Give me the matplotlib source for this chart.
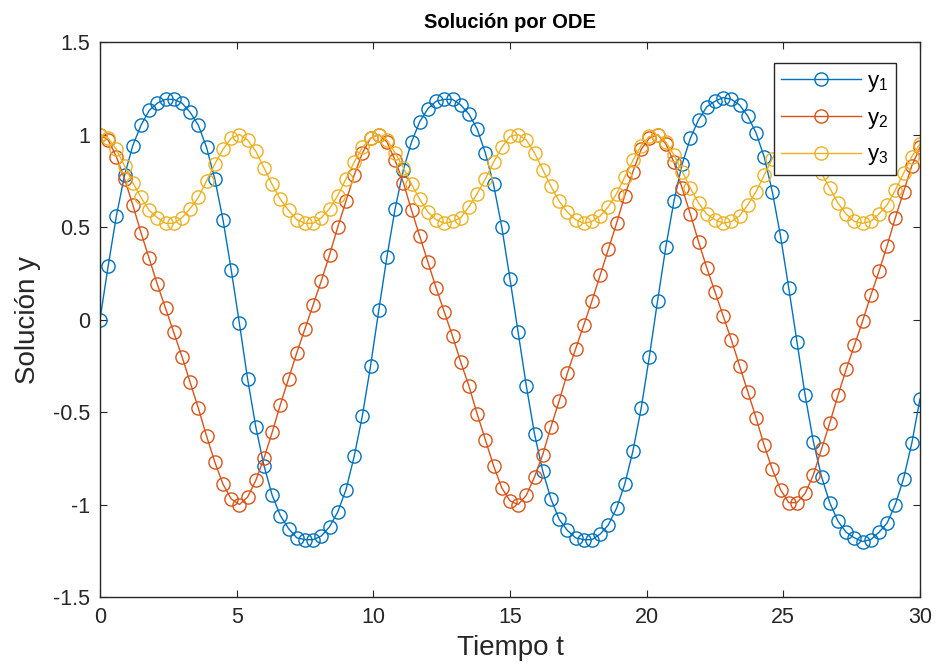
import numpy as np
import matplotlib
matplotlib.use("agg")
import matplotlib.pyplot as plt
from matplotlib.ticker import FuncFormatter

# tiempo: 101 muestras de 0 a 30
t = np.linspace(0, 30, 101)

y1 = [0.00, 0.29, 0.56, 0.78, 0.94, 1.05, 1.13, 1.17, 1.19, 1.19,
      1.17, 1.12, 1.05, 0.93, 0.76, 0.54, 0.27, -0.02, -0.32, -0.58,
      -0.79, -0.95, -1.06, -1.13, -1.18, -1.19, -1.19, -1.17, -1.12, -1.04,
      -0.92, -0.74, -0.52, -0.25, 0.05, 0.34, 0.60, 0.81, 0.96, 1.07,
      1.14, 1.18, 1.19, 1.19, 1.16, 1.11, 1.03, 0.90, 0.73, 0.50,
      0.22, -0.07, -0.36, -0.62, -0.82, -0.97, -1.08, -1.14, -1.18, -1.19,
      -1.19, -1.16, -1.11, -1.02, -0.89, -0.71, -0.48, -0.20, 0.10, 0.39,
      0.64, 0.84, 0.98, 1.08, 1.15, 1.18, 1.20, 1.19, 1.16, 1.10,
      1.01, 0.88, 0.69, 0.45, 0.17, -0.12, -0.41, -0.66, -0.85, -0.99,
      -1.09, -1.15, -1.18, -1.20, -1.19, -1.15, -1.10, -1.00, -0.86, -0.67,
      -0.43]

y2 = [1.00, 0.97, 0.88, 0.76, 0.62, 0.47, 0.33, 0.19, 0.06, -0.07,
      -0.20, -0.34, -0.48, -0.63, -0.77, -0.89, -0.97, -1.00, -0.96, -0.87,
      -0.75, -0.61, -0.46, -0.32, -0.18, -0.05, 0.08, 0.21, 0.35, 0.50,
      0.64, 0.78, 0.90, 0.98, 1.00, 0.96, 0.86, 0.74, 0.59, 0.45,
      0.31, 0.17, 0.04, -0.09, -0.23, -0.36, -0.51, -0.65, -0.79, -0.91,
      -0.98, -1.00, -0.95, -0.85, -0.73, -0.58, -0.44, -0.29, -0.16, -0.03,
      0.10, 0.24, 0.38, 0.52, 0.67, 0.80, 0.92, 0.98, 1.00, 0.95,
      0.85, 0.71, 0.57, 0.42, 0.28, 0.15, 0.02, -0.11, -0.25, -0.39,
      -0.53, -0.68, -0.81, -0.92, -0.99, -0.99, -0.94, -0.84, -0.70, -0.56,
      -0.41, -0.27, -0.14, -0.01, 0.13, 0.26, 0.40, 0.55, 0.69, 0.83,
      0.93]

y3 = [1.00, 0.98, 0.92, 0.83, 0.74, 0.66, 0.59, 0.55, 0.52, 0.52,
      0.55, 0.60, 0.66, 0.75, 0.84, 0.92, 0.98, 1.00, 0.97, 0.91,
      0.82, 0.73, 0.65, 0.59, 0.54, 0.52, 0.52, 0.55, 0.60, 0.67,
      0.76, 0.85, 0.93, 0.98, 1.00, 0.97, 0.90, 0.82, 0.73, 0.65,
      0.58, 0.54, 0.52, 0.53, 0.55, 0.61, 0.68, 0.76, 0.85, 0.93,
      0.99, 1.00, 0.97, 0.90, 0.81, 0.72, 0.64, 0.58, 0.54, 0.52,
      0.53, 0.56, 0.61, 0.68, 0.77, 0.86, 0.94, 0.99, 1.00, 0.96,
      0.89, 0.80, 0.71, 0.63, 0.57, 0.54, 0.52, 0.53, 0.56, 0.62,
      0.69, 0.78, 0.87, 0.95, 0.99, 1.00, 0.96, 0.88, 0.79, 0.71,
      0.63, 0.57, 0.53, 0.52, 0.53, 0.57, 0.62, 0.70, 0.79, 0.88,
      0.95]

series = [("y$_1$", y1, "#0072BD"), ("y$_2$", y2, "#D95319"), ("y$_3$", y3, "#EDB120")]

plt.rcParams["font.family"] = ["Liberation Sans", "DejaVu Sans"]
plt.rcParams["mathtext.default"] = "regular"
plt.rcParams["axes.unicode_minus"] = False

fig = plt.figure(figsize=(9.37, 6.64), dpi=100)
ax = fig.add_axes([0.1067, 0.1009, 0.8751, 0.8358])

for name, vals, col in series:
    ax.plot(t, vals, "-o", color=col, lw=1.0, ms=9.5, mfc="none", mew=1.0, label=name)

ax.set_xlim(0, 30)
ax.set_ylim(-1.5, 1.5)
ax.set_xticks([0, 5, 10, 15, 20, 25, 30])
ax.set_yticks([-1.5, -1, -0.5, 0, 0.5, 1, 1.5])
ax.yaxis.set_major_formatter(FuncFormatter(lambda v, p: "%g" % v))

grey = "#262626"
for s in ax.spines.values():
    s.set_color(grey)
    s.set_linewidth(1.0)
ax.tick_params(direction="in", length=5, width=0.8, top=True, right=True,
               labelsize=15.5, colors=grey, pad=7)

ax.set_xlabel("Tiempo t", fontsize=20, color=grey, labelpad=5)
ax.set_ylabel("Solución y", fontsize=20, color=grey, labelpad=9)
ax.set_title("Solución por ODE", fontsize=14.5, fontweight="bold", pad=10)

leg = ax.legend(loc="upper right", bbox_to_anchor=(0.9707, 0.962), borderaxespad=0,
                fontsize=16, handlelength=3.6, handletextpad=0.25, labelspacing=0.62,
                borderpad=0.35, fancybox=False, framealpha=1, edgecolor=grey)
leg.get_frame().set_linewidth(1.0)

fig.savefig("out.png", dpi=100)
